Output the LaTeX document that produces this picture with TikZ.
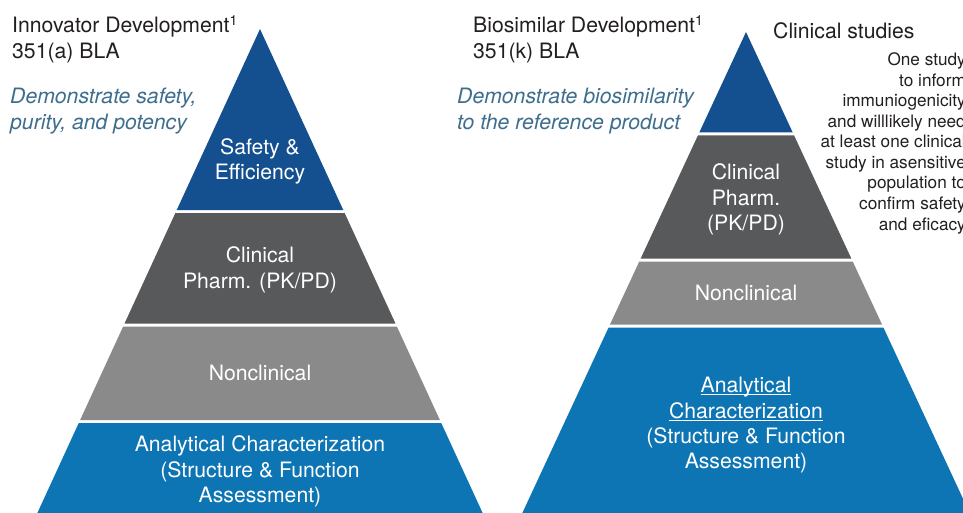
\documentclass[tikz,border=0pt]{standalone}
\usepackage{fontspec}
\setmainfont{TeX Gyre Heros}
\definecolor{topblue}{HTML}{14508F}
\definecolor{botblue}{HTML}{0E75B5}
\definecolor{dgrey}{HTML}{58595B}
\definecolor{mgrey}{HTML}{8A8A8A}
\definecolor{italc}{HTML}{3D6E8E}
\definecolor{txtc}{HTML}{231F20}
\newcommand\pyrlayer[6]{%
  \pgfmathsetmacro\hwa{#3*(#4-#2)}%
  \pgfmathsetmacro\hwb{#3*(#5-#2)}%
  \fill[#6] ({#1-\hwa},#4) -- ({#1+\hwa},#4) -- ({#1+\hwb},#5) -- ({#1-\hwb},#5) -- cycle;}
\newcommand\myul[1]{\setbox0\hbox{#1}\rlap{\rule[-3pt]{\wd0}{1.1pt}}\box0}
\newcommand\supone{\raisebox{7pt}{\fontsize{14}{14}\selectfont 1}}
\tikzset{
  title/.style={anchor=base west, inner sep=0, text=txtc, font=\fontsize{21.2}{25}\selectfont},
  goal/.style={anchor=base west, inner sep=0, text=italc, font=\fontsize{21.2}{25}\selectfont\itshape},
  lay/.style={anchor=base, inner sep=0, text=white, font=\fontsize{21.2}{25}\selectfont},
  note/.style={anchor=base east, inner sep=0, text=txtc, font=\fontsize{17.2}{20.5}\selectfont},
}
\begin{document}
\begin{tikzpicture}[x=1pt,y=-1pt]
\clip (0,0) rectangle (963,513);
\fill[white] (0,0) rectangle (963,513);
% left pyramid: apex (260,29), slope 0.46
\pyrlayer{260}{29}{0.46}{29}{210}{topblue}
\pyrlayer{260}{29}{0.46}{213}{323.5}{dgrey}
\pyrlayer{260}{29}{0.46}{326.5}{420}{mgrey}
\pyrlayer{260}{29}{0.46}{423}{530}{botblue}
% right pyramid: apex (746,32), slope 0.465
\pyrlayer{746}{32}{0.465}{32}{132.5}{topblue}
\pyrlayer{746}{32}{0.465}{135.5}{258.5}{dgrey}
\pyrlayer{746}{32}{0.465}{261.5}{324.5}{mgrey}
\pyrlayer{746}{32}{0.465}{327.5}{530}{botblue}
% left titles
\node[title] (lt1) at (12,33) {Innovator Development\supone};
\node[title] (lt2) at (12,59) {351(a) BLA};
\node[goal] (lg1) at (10,104) {Demonstrate safety,};
\node[goal] (lg2) at (10,130) {purity, and potency};
% left layers
\node[lay] (ls1) at (260,155) {Safety \&};
\node[lay] (ls2) at (260,180) {Efficiency};
\node[lay] (lc1) at (260,262) {Clinical};
\node[lay] (lc2) at (260,288) {Pharm. (PK/PD)};
\node[lay] (ln) at (260,380) {Nonclinical};
\node[lay] (la1) at (260,451) {Analytical Characterization};
\node[lay] (la2) at (260,477) {(Structure \& Function};
\node[lay] (la3) at (260,502) {Assessment)};
% right titles
\node[title] (rt1) at (473,33) {Biosimilar Development\supone};
\node[title] (rt2) at (473,59) {351(k) BLA};
\node[goal] (rg1) at (457,104) {Demonstrate biosimilarity};
\node[goal] (rg2) at (457,130) {to the reference product};
\node[title] (cs) at (773,39) {Clinical studies};
% right layers
\node[lay] (rc1) at (746,180) {Clinical};
\node[lay] (rc2) at (746,205) {Pharm.};
\node[lay] (rc3) at (746,230) {(PK/PD)};
\node[lay] (rn) at (746,300) {Nonclinical};
\node[lay] (ra1) at (746,392) {\myul{Analytical}};
\node[lay] (ra2) at (746,418) {\myul{Characterization}};
\node[lay] (ra3) at (746,443) {(Structure \& Function};
\node[lay] (ra4) at (746,468) {Assessment)};
% note
\foreach \t [count=\i] in {One study, to inform, immuniogenicity, and willlikely need, at least one clinical, study in asensitive, population to, confirm safety, and eficacy}
  \node[note] (n\i) at (966,{66+(\i-1)*20.5}) {\t};
\end{tikzpicture}
\end{document}
